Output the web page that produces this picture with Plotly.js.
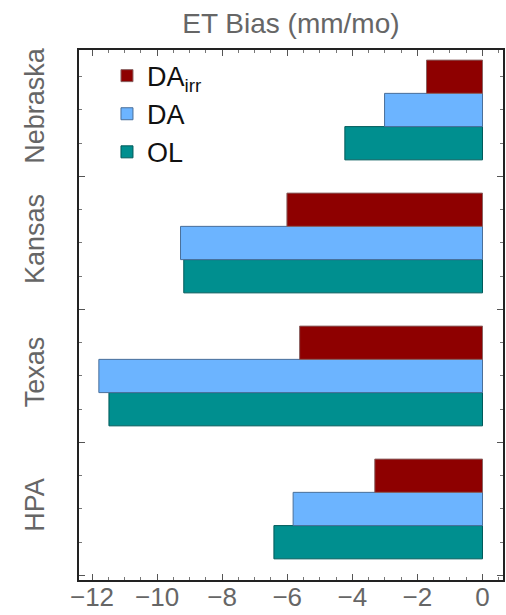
<!DOCTYPE html>
<html>
<head>
<meta charset="utf-8">
<script src="https://cdn.plot.ly/plotly-3.0.1.min.js"></script>
<style>html,body{margin:0;padding:0;background:#fff;}#chart{width:506px;height:615px;}</style>
</head>
<body>
<div id="chart"></div>
<script>
// Data
const categories = ['HPA', 'Texas', 'Kansas', 'Nebraska'];
const seriesNames = ['DA<sub>irr</sub>', 'DA', 'OL'];
const DAirr = [-3.31, -5.62, -6.01, -1.72];
const DA = [-5.82, -11.79, -9.28, -3.01];
const OL = [-6.41, -11.48, -9.18, -4.23];
const xTickVals = [-12, -10, -8, -6, -4, -2, 0];

const idx = categories.map((c, i) => i);

function barTrace(name, values, fill, edge) {
  return {
    type: 'bar', orientation: 'h', name: name,
    x: values, y: idx,
    marker: {color: fill, line: {color: edge, width: 1}},
    hoverinfo: 'x+name'
  };
}

const traces = [
  barTrace(seriesNames[2], OL, '#008f8f', '#005a5a'),
  barTrace(seriesNames[1], DA, '#6cb4ff', '#4a6f9a'),
  barTrace(seriesNames[0], DAirr, '#8e0000', '#8a6060')
];

const barCenters = [];
const barLabels = [];
idx.forEach((i, k) => {
  barCenters.push(i - 0.25, i, i + 0.25);
  barLabels.push('', categories[k], '');
});
const boundaries = idx.map(i => i - 0.5).concat([idx[idx.length - 1] + 0.5]);

const layout = {
  width: 506, height: 615,
  margin: {l: 79, r: 3, t: 50, b: 35},
  paper_bgcolor: '#fff', plot_bgcolor: '#fff',
  barmode: 'group', bargap: 0.25, bargroupgap: 0,
  font: {family: 'Liberation Sans, Arial, sans-serif', color: '#666'},
  title: {
    text: 'ET Bias (mm/mo)',
    font: {size: 28, color: '#666'},
    x: 0.575, xanchor: 'center', xref: 'container',
    y: 0.963, yanchor: 'middle', yref: 'container'
  },
  xaxis: {
    range: [-12.40, 0.63],
    tickmode: 'array', tickvals: xTickVals,
    ticks: 'inside', ticklen: 6, tickwidth: 1, tickcolor: '#555',
    minor: {dtick: 0.5, tick0: 0, ticks: 'inside', ticklen: 3, tickcolor: '#777', showgrid: false},
    showline: true, linewidth: 2, linecolor: '#222', mirror: 'allticks',
    showgrid: false, zeroline: false,
    ticklabelstandoff: -7,
    tickfont: {size: 26, color: '#666'}
  },
  yaxis: {
    range: [-0.534, 3.451],
    tickmode: 'array', tickvals: barCenters, ticktext: barLabels,
    ticks: 'inside', ticklen: 3, tickwidth: 1, tickcolor: '#777',
    minor: {tickmode: 'array', tickvals: boundaries, ticks: 'inside', ticklen: 6, tickcolor: '#555', showgrid: false},
    tickangle: -90,
    ticklabelstandoff: 22,
    showline: true, linewidth: 2, linecolor: '#222', mirror: 'allticks',
    showgrid: false, zeroline: false,
    tickfont: {size: 27, color: '#666'}
  },
  showlegend: true,
  legend: {
    x: 0.066, xanchor: 'left', y: 0.997, yanchor: 'top',
    traceorder: 'reversed',
    bgcolor: 'rgba(0,0,0,0)', borderwidth: 0,
    font: {size: 27, color: '#111'},
    itemwidth: 30, tracegroupgap: 0
  }
};

Plotly.newPlot('chart', traces, layout, {displayModeBar: false, staticPlot: true});
</script>
</body>
</html>
